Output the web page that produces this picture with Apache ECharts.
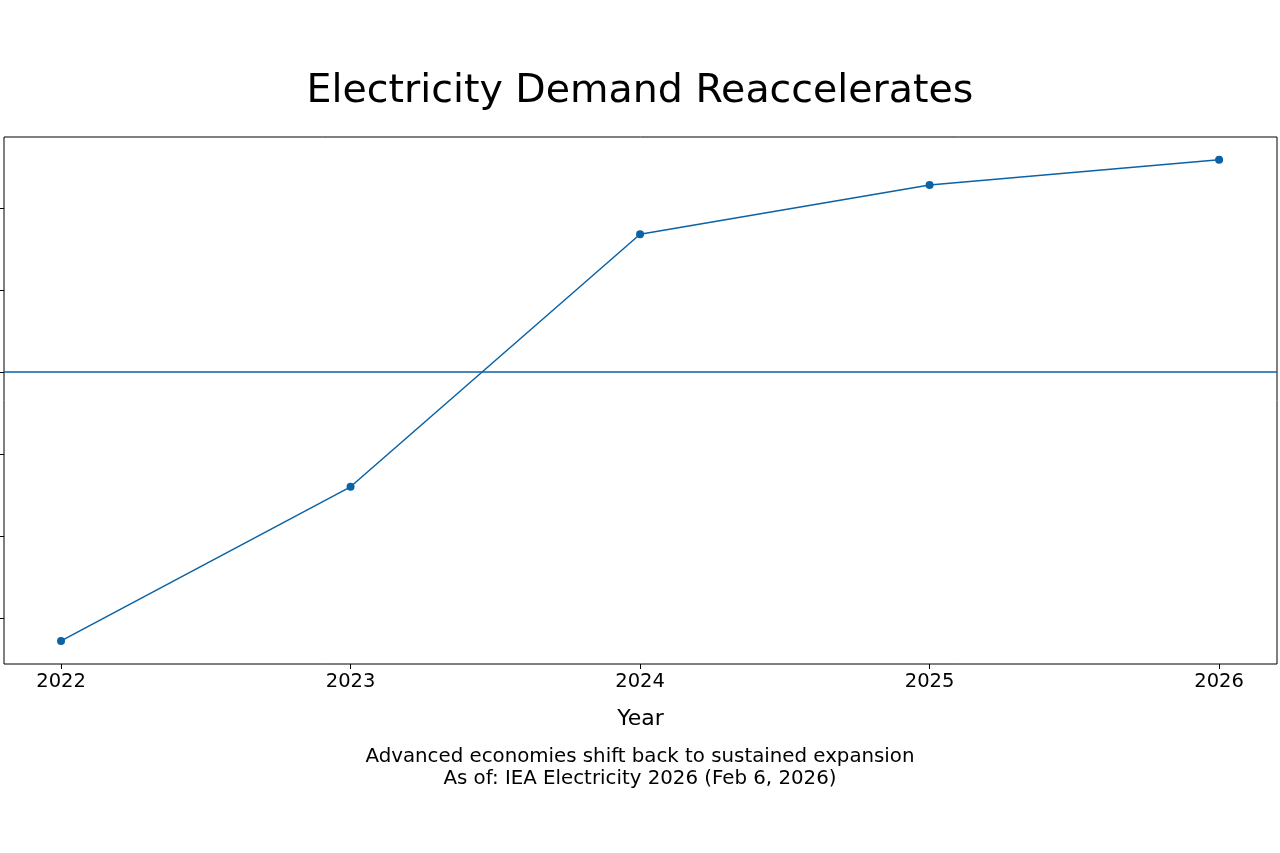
<!DOCTYPE html>
<html><head><meta charset="utf-8">
<script src="https://cdn.jsdelivr.net/npm/echarts@6/dist/echarts.min.js"></script>
<style>html,body{margin:0;padding:0;background:#fff}#c{width:1280px;height:853px}</style>
</head><body><div id="c"></div>
<script>
const years = [2022, 2023, 2024, 2025, 2026];
const demandGrowth = [-3.28, -1.40, 1.68, 2.28, 2.59];
const yTicks = [-3, -2, -1, 0, 1, 2];
const titleText = 'Electricity Demand Reaccelerates';
const subtitleText = 'Advanced economies shift back to sustained expansion\nAs of: IEA Electricity 2026 (Feb 6, 2026)';
const FONT = 'DejaVu Sans';
const COLOR = '#0b62a4';

const chart = echarts.init(document.getElementById('c'));
chart.setOption({
  animation: false,
  backgroundColor: '#fff',
  title: [
    {text: titleText, left: 'center', top: 67, textStyle: {fontFamily: FONT, fontSize: 39.5, fontWeight: 'normal', color: '#000'}},
    {text: subtitleText, left: 'center', top: 741, textStyle: {fontFamily: FONT, fontSize: 19.8, fontWeight: 'normal', color: '#000', lineHeight: 22}}
  ],
  grid: {left: 4, right: 3, top: 137, bottom: 189, show: true, borderColor: '#000', borderWidth: 1},
  xAxis: {
    type: 'value', min: 2021.803, max: 2026.2, position: 'bottom',
    name: 'Year', nameLocation: 'middle', nameGap: 44,
    nameTextStyle: {fontFamily: FONT, fontSize: 22, color: '#000'},
    axisLine: {show: false, onZero: false},
    splitLine: {show: false},
    axisTick: {show: true, length: 5, lineStyle: {color: '#000'}, customValues: years},
    axisLabel: {customValues: years, fontFamily: FONT, fontSize: 19.5, color: '#000', margin: 8, formatter: v => String(Math.round(v))}
  },
  yAxis: {
    type: 'value', min: -3.561, max: 2.866,
    axisLine: {show: false, onZero: false},
    splitLine: {show: false},
    axisTick: {show: true, length: 4, lineStyle: {color: '#000'}, customValues: yTicks},
    axisLabel: {show: false}
  },
  series: [{
    type: 'line',
    data: years.map((y, i) => [y, demandGrowth[i]]),
    symbol: 'circle', symbolSize: 8,
    lineStyle: {color: COLOR, width: 1.5},
    itemStyle: {color: COLOR},
    markLine: {
      silent: true, symbol: 'none', label: {show: false},
      lineStyle: {color: COLOR, width: 1.5, type: 'solid'},
      data: [{yAxis: 0}]
    }
  }]
});
</script></body></html>
